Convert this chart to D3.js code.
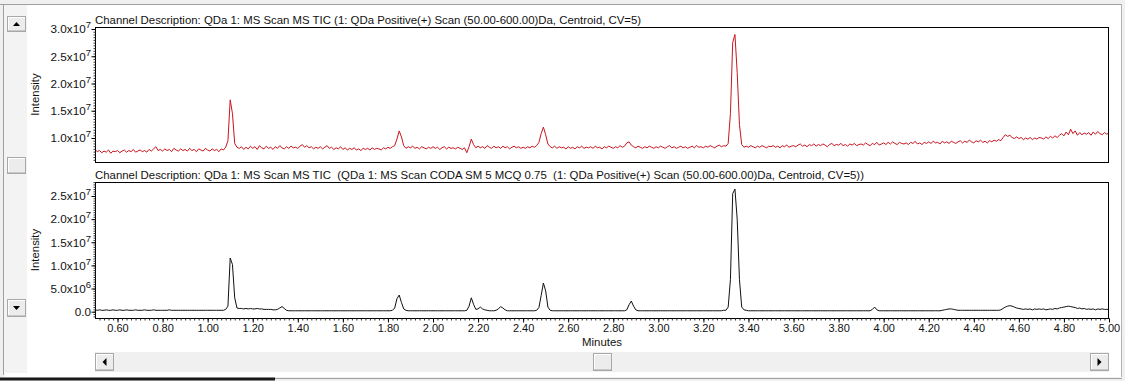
<!DOCTYPE html>
<html><head><meta charset="utf-8">
<script src="https://cdn.jsdelivr.net/npm/d3@7"></script>
<style>
body{margin:0;background:#fff}
svg{display:block}
text{font-family:"Liberation Sans",Arial,sans-serif;fill:#111;white-space:pre}
</style>
</head><body>
<svg id="chart" width="1125" height="381"></svg>
<script>
// ---------- DATA ----------
const scanTimes = [
0.50,0.51,0.52,0.53,0.54,0.55,0.56,0.57,0.58,0.59,
0.60,0.61,0.62,0.63,0.64,0.65,0.66,0.67,0.68,0.69,
0.70,0.71,0.72,0.73,0.74,0.75,0.76,0.77,0.78,0.79,
0.80,0.81,0.82,0.83,0.84,0.85,0.86,0.87,0.88,0.89,
0.90,0.91,0.92,0.93,0.94,0.95,0.96,0.97,0.98,0.99,
1.00,1.01,1.02,1.03,1.04,1.05,1.06,1.07,1.08,1.09,
1.10,1.11,1.12,1.13,1.14,1.15,1.16,1.17,1.18,1.19,
1.20,1.21,1.22,1.23,1.24,1.25,1.26,1.27,1.28,1.29,
1.30,1.31,1.32,1.33,1.34,1.35,1.36,1.37,1.38,1.39,
1.40,1.41,1.42,1.43,1.44,1.45,1.46,1.47,1.48,1.49,
1.50,1.51,1.52,1.53,1.54,1.55,1.56,1.57,1.58,1.59,
1.60,1.61,1.62,1.63,1.64,1.65,1.66,1.67,1.68,1.69,
1.70,1.71,1.72,1.73,1.74,1.75,1.76,1.77,1.78,1.79,
1.80,1.81,1.82,1.83,1.84,1.85,1.86,1.87,1.88,1.89,
1.90,1.91,1.92,1.93,1.94,1.95,1.96,1.97,1.98,1.99,
2.00,2.01,2.02,2.03,2.04,2.05,2.06,2.07,2.08,2.09,
2.10,2.11,2.12,2.13,2.14,2.15,2.16,2.17,2.18,2.19,
2.20,2.21,2.22,2.23,2.24,2.25,2.26,2.27,2.28,2.29,
2.30,2.31,2.32,2.33,2.34,2.35,2.36,2.37,2.38,2.39,
2.40,2.41,2.42,2.43,2.44,2.45,2.46,2.47,2.48,2.49,
2.50,2.51,2.52,2.53,2.54,2.55,2.56,2.57,2.58,2.59,
2.60,2.61,2.62,2.63,2.64,2.65,2.66,2.67,2.68,2.69,
2.70,2.71,2.72,2.73,2.74,2.75,2.76,2.77,2.78,2.79,
2.80,2.81,2.82,2.83,2.84,2.85,2.86,2.87,2.88,2.89,
2.90,2.91,2.92,2.93,2.94,2.95,2.96,2.97,2.98,2.99,
3.00,3.01,3.02,3.03,3.04,3.05,3.06,3.07,3.08,3.09,
3.10,3.11,3.12,3.13,3.14,3.15,3.16,3.17,3.18,3.19,
3.20,3.21,3.22,3.23,3.24,3.25,3.26,3.27,3.28,3.29,
3.30,3.31,3.32,3.33,3.34,3.35,3.36,3.37,3.38,3.39,
3.40,3.41,3.42,3.43,3.44,3.45,3.46,3.47,3.48,3.49,
3.50,3.51,3.52,3.53,3.54,3.55,3.56,3.57,3.58,3.59,
3.60,3.61,3.62,3.63,3.64,3.65,3.66,3.67,3.68,3.69,
3.70,3.71,3.72,3.73,3.74,3.75,3.76,3.77,3.78,3.79,
3.80,3.81,3.82,3.83,3.84,3.85,3.86,3.87,3.88,3.89,
3.90,3.91,3.92,3.93,3.94,3.95,3.96,3.97,3.98,3.99,
4.00,4.01,4.02,4.03,4.04,4.05,4.06,4.07,4.08,4.09,
4.10,4.11,4.12,4.13,4.14,4.15,4.16,4.17,4.18,4.19,
4.20,4.21,4.22,4.23,4.24,4.25,4.26,4.27,4.28,4.29,
4.30,4.31,4.32,4.33,4.34,4.35,4.36,4.37,4.38,4.39,
4.40,4.41,4.42,4.43,4.44,4.45,4.46,4.47,4.48,4.49,
4.50,4.51,4.52,4.53,4.54,4.55,4.56,4.57,4.58,4.59,
4.60,4.61,4.62,4.63,4.64,4.65,4.66,4.67,4.68,4.69,
4.70,4.71,4.72,4.73,4.74,4.75,4.76,4.77,4.78,4.79,
4.80,4.81,4.82,4.83,4.84,4.85,4.86,4.87,4.88,4.89,
4.90,4.91,4.92,4.93,4.94,4.95,4.96,4.97,4.98,4.99,
5.00];

// Intensity, units of 1e6 counts — top channel (raw TIC, red)
const ticRaw = [
7.9,7.5,7.7,7.3,7.6,7.4,7.8,7.2,7.6,7.5,
7.7,7.3,7.6,7.8,7.4,7.7,7.5,7.9,7.4,7.6,
7.8,7.5,7.7,7.4,7.9,7.6,8.0,8.4,7.7,7.9,
7.6,8.0,7.7,7.9,7.5,8.1,7.8,7.6,8.0,7.7,
7.9,7.6,8.1,7.7,7.9,7.5,8.0,7.8,7.6,8.1,
7.8,7.6,8.0,7.7,7.9,7.5,8.0,7.8,8.3,9.5,
17.0,14.5,9.0,8.3,8.1,8.4,7.9,8.3,8.0,8.5,
8.1,8.4,7.9,8.6,8.2,8.0,8.5,8.1,8.3,7.9,
8.4,8.1,8.6,8.2,8.0,8.4,8.1,8.5,8.2,8.3,
8.1,8.5,8.8,8.3,8.6,8.2,8.4,8.0,8.3,8.1,
8.4,8.0,8.3,8.6,8.1,8.3,7.9,8.2,8.0,8.4,
7.9,8.2,7.8,8.1,7.9,8.2,7.8,8.0,7.7,8.1,
7.9,8.1,7.8,8.2,7.9,8.1,8.0,7.8,8.2,8.0,
8.3,8.1,8.4,8.6,9.8,11.3,10.2,8.6,8.1,8.4,
8.2,8.5,8.1,8.3,8.0,8.4,8.2,8.0,8.3,8.1,
8.4,8.1,8.3,7.9,8.2,8.4,8.0,8.3,8.1,8.2,
8.0,8.3,8.1,7.9,8.2,7.3,8.4,9.8,8.8,8.2,
8.5,8.2,8.4,8.1,8.6,8.3,8.1,8.5,8.2,8.4,
8.1,8.5,8.2,8.4,8.0,8.3,8.5,8.2,8.4,8.1,
8.3,8.1,8.4,8.2,8.5,8.3,8.6,9.2,10.8,12.0,
10.6,8.9,8.4,8.2,8.5,8.1,8.4,8.2,8.3,8.0,
8.4,8.1,8.3,8.0,8.4,8.2,8.5,8.1,8.3,8.2,
8.4,8.1,8.5,8.2,8.3,8.0,8.4,8.2,8.5,8.3,
8.1,8.4,8.2,8.6,8.3,8.5,9.1,9.3,8.7,8.4,
8.2,8.5,8.3,8.1,8.4,8.2,8.5,8.3,8.1,8.4,
8.2,8.5,8.3,8.1,8.4,8.6,8.2,8.4,8.1,8.3,
8.5,8.2,8.4,8.1,8.3,8.5,8.2,8.6,8.3,8.4,
8.2,8.5,8.3,8.6,8.4,8.2,8.5,8.7,8.4,8.6,
8.5,9.0,14.5,27.5,29.0,22.0,12.5,8.8,8.3,8.5,
8.3,8.6,8.4,8.2,8.5,8.3,8.6,8.4,8.2,8.5,
8.4,8.6,8.3,8.5,8.2,8.6,8.4,8.7,8.3,8.5,
8.6,8.4,8.7,8.9,8.5,8.7,8.4,8.8,8.6,8.9,
8.5,8.8,8.6,8.9,8.7,8.4,8.8,9.0,8.6,8.8,
8.7,9.0,8.6,8.8,8.5,8.9,8.7,9.0,8.6,8.8,
8.9,8.7,9.1,8.8,8.6,9.0,8.8,9.2,8.7,8.9,
9.1,8.8,9.2,8.9,9.3,9.0,8.8,9.2,9.0,8.9,
9.1,8.8,9.2,9.0,9.4,8.9,9.1,8.8,9.2,9.0,
9.3,9.0,9.4,9.1,9.2,8.9,9.4,9.1,9.3,9.0,
9.4,9.2,9.0,9.3,9.5,9.1,9.4,9.2,9.6,9.3,
9.1,9.5,9.3,9.6,9.2,9.4,9.1,9.5,9.3,9.6,
9.4,9.7,9.5,10.1,10.6,10.3,10.5,10.1,9.9,10.2,
9.9,10.1,9.7,10.0,9.8,10.1,9.7,10.0,9.8,10.1,
10.0,9.8,10.2,9.9,10.3,10.0,10.4,10.1,10.5,10.8,
10.4,11.1,10.6,11.6,10.8,11.3,10.5,11.0,10.6,10.9,
10.7,11.0,10.5,11.1,10.7,11.2,10.8,10.6,11.0,10.7,
10.9];

// Intensity, units of 1e6 counts — bottom channel (CODA-filtered TIC, black)
const ticCoda = [
0.4,0.3,0.4,0.3,0.3,0.4,0.3,0.3,0.4,0.3,
0.3,0.4,0.3,0.3,0.4,0.3,0.3,0.3,0.4,0.3,
0.3,0.3,0.4,0.3,0.3,0.3,0.4,0.3,0.3,0.3,
0.3,0.3,0.3,0.4,0.3,0.3,0.3,0.3,0.3,0.3,
0.3,0.3,0.3,0.3,0.3,0.3,0.3,0.3,0.3,0.3,
0.3,0.3,0.3,0.3,0.3,0.3,0.3,0.3,0.5,1.2,
11.6,10.2,3.0,0.8,0.7,0.7,0.6,0.7,0.6,0.7,
0.6,0.6,0.7,0.6,0.6,0.5,0.5,0.5,0.5,0.4,
0.4,0.5,0.8,1.1,0.7,0.3,0.2,0.2,0.2,0.2,
0.2,0.2,0.2,0.2,0.2,0.2,0.2,0.2,0.2,0.2,
0.2,0.2,0.2,0.2,0.2,0.2,0.2,0.2,0.2,0.2,
0.2,0.2,0.2,0.2,0.2,0.2,0.2,0.2,0.2,0.2,
0.2,0.2,0.2,0.2,0.2,0.2,0.2,0.2,0.2,0.2,
0.2,0.2,0.3,0.8,2.8,3.6,2.0,0.6,0.3,0.2,
0.2,0.2,0.2,0.2,0.2,0.2,0.2,0.2,0.2,0.2,
0.2,0.2,0.2,0.2,0.2,0.2,0.2,0.2,0.2,0.2,
0.2,0.2,0.2,0.2,0.2,0.3,1.2,3.0,1.6,0.5,
0.6,1.0,0.6,0.4,0.3,0.2,0.2,0.2,0.3,0.6,
1.1,0.8,0.4,0.2,0.2,0.2,0.2,0.2,0.2,0.2,
0.2,0.2,0.2,0.2,0.2,0.2,0.3,0.9,3.5,6.2,
4.5,1.0,0.3,0.2,0.2,0.2,0.2,0.2,0.2,0.2,
0.2,0.2,0.2,0.2,0.2,0.2,0.2,0.2,0.2,0.2,
0.2,0.2,0.2,0.2,0.2,0.2,0.2,0.2,0.2,0.2,
0.2,0.2,0.2,0.2,0.2,0.2,0.4,1.5,2.3,1.2,
0.4,0.2,0.2,0.2,0.2,0.2,0.2,0.2,0.2,0.2,
0.2,0.2,0.2,0.2,0.2,0.2,0.2,0.2,0.2,0.2,
0.2,0.2,0.2,0.2,0.2,0.2,0.2,0.2,0.2,0.2,
0.2,0.2,0.2,0.2,0.2,0.2,0.2,0.2,0.2,0.3,
0.3,1.0,7.0,25.5,26.5,20.0,7.0,1.0,0.4,0.3,
0.2,0.2,0.2,0.2,0.2,0.2,0.2,0.2,0.2,0.2,
0.2,0.2,0.2,0.2,0.2,0.2,0.2,0.2,0.2,0.2,
0.2,0.2,0.2,0.2,0.2,0.2,0.2,0.2,0.2,0.2,
0.2,0.2,0.2,0.2,0.2,0.2,0.2,0.2,0.2,0.2,
0.2,0.2,0.2,0.2,0.2,0.2,0.2,0.2,0.2,0.2,
0.2,0.2,0.2,0.2,0.2,0.5,1.0,0.4,0.2,0.2,
0.2,0.2,0.2,0.2,0.2,0.2,0.2,0.2,0.2,0.2,
0.2,0.2,0.2,0.2,0.2,0.2,0.2,0.2,0.2,0.2,
0.2,0.2,0.2,0.2,0.2,0.2,0.3,0.4,0.5,0.6,
0.6,0.5,0.4,0.3,0.3,0.3,0.3,0.3,0.3,0.3,
0.3,0.3,0.3,0.3,0.3,0.3,0.3,0.3,0.3,0.3,
0.3,0.3,0.4,0.7,1.0,1.2,1.3,1.2,1.0,0.8,
0.7,0.6,0.5,0.6,0.5,0.6,0.4,0.6,0.5,0.6,
0.5,0.6,0.4,0.5,0.6,0.5,0.7,0.6,0.8,0.9,
1.0,1.1,1.2,1.1,1.0,0.9,0.7,0.8,0.6,0.7,
0.5,0.6,0.5,0.6,0.4,0.6,0.5,0.6,0.5,0.5,
0.5];

const xTickValues = [0.6,0.8,1.0,1.2,1.4,1.6,1.8,2.0,2.2,2.4,2.6,2.8,3.0,3.2,3.4,3.6,3.8,4.0,4.2,4.4,4.6,4.8,5.0];
const topYTicks = [10,15,20,25,30];            // 1e6 units
const topYMantissa = ["1.0","1.5","2.0","2.5","3.0"];
const topYExp = ["7","7","7","7","7"];
const bottomYTicks = [0,5,10,15,20,25];
const bottomYMantissa = ["0.0","5.0","1.0","1.5","2.0","2.5"];
const bottomYExp = ["","6","7","7","7","7"];
const titles = [
  "Channel Description: QDa 1: MS Scan MS TIC (1: QDa Positive(+) Scan (50.00-600.00)Da, Centroid, CV=5)",
  "Channel Description: QDa 1: MS Scan MS TIC  (QDa 1: MS Scan CODA SM 5 MCQ 0.75  (1: QDa Positive(+) Scan (50.00-600.00)Da, Centroid, CV=5))"
];
const xTitle = "Minutes";
const yTitle = "Intensity";

// ---------- DRAW ----------
const svg = d3.select("#chart");
const W = 1125, H = 381;

// window chrome
svg.append("rect").attr("width",W).attr("height",H).attr("fill","#f0f0f0");
svg.append("rect").attr("x",4).attr("y",5).attr("width",1117).attr("height",372).attr("fill","#ffffff");
svg.append("rect").attr("x",4).attr("y",5).attr("width",23).attr("height",368).attr("fill","#f3f3f3");
svg.append("line").attr("x1",0).attr("x2",1122).attr("y1",4.5).attr("y2",4.5).attr("stroke","#a0a0a0");
svg.append("line").attr("x1",3.5).attr("x2",3.5).attr("y1",4).attr("y2",375).attr("stroke","#a0a0a0");
svg.append("line").attr("x1",1121.5).attr("x2",1121.5).attr("y1",4).attr("y2",377).attr("stroke","#b4b4b4");
svg.append("rect").attr("x",0).attr("y",377).attr("width",W).attr("height",4).attr("fill","#f0f0f0");
svg.append("line").attr("x1",0).attr("x2",1122).attr("y1",378.5).attr("y2",378.5).attr("stroke","#a0a0a0");
svg.append("rect").attr("x",0).attr("y",377.5).attr("width",275).attr("height",3).attr("fill","#1a1a1a");
// horizontal scroll track
svg.append("rect").attr("x",95).attr("y",352).attr("width",1014).attr("height",20).attr("fill","#f0f0f0");

function button(x,y,w,h,dir){
  const g = svg.append("g");
  g.append("rect").attr("x",x+0.5).attr("y",y+0.5).attr("width",w).attr("height",h).attr("fill","#ececec").attr("stroke","#a8a8a8");
  g.append("line").attr("x1",x+1).attr("x2",x+w).attr("y1",y+1.5).attr("y2",y+1.5).attr("stroke","#ffffff");
  g.append("line").attr("x1",x+1.5).attr("x2",x+1.5).attr("y1",y+1).attr("y2",y+h).attr("stroke","#ffffff");
  g.append("line").attr("x1",x+1).attr("x2",x+w).attr("y1",y+h-0.5).attr("y2",y+h-0.5).attr("stroke","#c8c8c8");
  const cx = x + w/2 + 0.5, cy = y + h/2 + 0.5;
  let pts = null;
  if(dir==="up") pts=[[cx-3.5,cy+2],[cx+3.5,cy+2],[cx,cy-2]];
  if(dir==="down") pts=[[cx-3.5,cy-2],[cx+3.5,cy-2],[cx,cy+2]];
  if(dir==="left") pts=[[cx+2,cy-4],[cx+2,cy+4],[cx-2,cy]];
  if(dir==="right") pts=[[cx-2,cy-4],[cx-2,cy+4],[cx+2,cy]];
  if(pts) g.append("path").attr("d",d3.line()(pts)+"Z").attr("fill","#000");
}
button(7,16,18,15,"up");
button(7,157,18,16,null);
button(7,299,18,17,"down");
button(95,353,18,17,"left");
button(593,353,18,17,null);
button(1090,353,18,17,"right");

// scales
const x = d3.scaleLinear().domain([0.5,5.0]).range([95,1109]);
const panels = [
  {top:27, bottom:162, y:d3.scaleLinear().domain([10,30]).range([138,29]),
   values:ticRaw, color:"#c8141e", ticks:topYTicks, mant:topYMantissa, exp:topYExp, minorStep:0.5, title:titles[0]},
  {top:182, bottom:318, y:d3.scaleLinear().domain([0,25]).range([311.7,196]),
   values:ticCoda, color:"#111111", ticks:bottomYTicks, mant:bottomYMantissa, exp:bottomYExp, minorStep:0.5, title:titles[1]}
];

panels.forEach((p,i)=>{
  const h = p.bottom - p.top;
  const clipId = "clip"+i;
  svg.append("clipPath").attr("id",clipId).append("rect")
    .attr("x",95).attr("y",p.top).attr("width",1014).attr("height",h);

  // trace
  const line = d3.line().x((d,k)=>x(scanTimes[k])).y(d=>p.y(d));
  svg.append("path").datum(p.values)
    .attr("clip-path",`url(#${clipId})`)
    .attr("fill","none").attr("stroke",p.color).attr("stroke-width",1)
    .attr("stroke-linejoin","round")
    .attr("d",line);

  // frame
  svg.append("rect").attr("x",95.5).attr("y",p.top+0.5).attr("width",1013).attr("height",h)
    .attr("fill","none").attr("stroke","#000").attr("stroke-width",1);

  // y minor ticks
  const yd = p.y.invert(p.bottom), yu = p.y.invert(p.top);
  const minor = d3.range(Math.ceil(yd/p.minorStep)*p.minorStep, yu, p.minorStep);
  svg.append("g").attr("transform","translate(95.5,0)")
    .call(d3.axisLeft(p.y).tickValues(minor).tickSize(2).tickFormat(""))
    .call(g=>g.select(".domain").remove())
    .selectAll("line").attr("stroke","#333");
  // y major ticks
  svg.append("g").attr("transform","translate(95.5,0)")
    .call(d3.axisLeft(p.y).tickValues(p.ticks).tickSize(4).tickFormat(""))
    .call(g=>g.select(".domain").remove())
    .selectAll("line").attr("stroke","#000");
  // y labels with superscript
  const lab = svg.append("g").selectAll("text").data(p.ticks).join("text")
    .attr("x",91).attr("y",d=>p.y(d)+4.3)
    .attr("text-anchor","end").attr("font-size",11.7);
  lab.append("tspan").text((d,k)=>p.mant[k] + (p.exp[k] ? "x10" : ""));
  lab.append("tspan").attr("dy",-5).attr("font-size",9.5).text((d,k)=>p.exp[k]);

  // y title
  svg.append("text").attr("transform",`translate(39,${(p.top+p.bottom)/2}) rotate(-90)`)
    .attr("text-anchor","middle").attr("font-size",11.4).text(yTitle);

  // panel title
  svg.append("text").attr("x",95).attr("y",p.top-3.5).attr("font-size",11.4)
    .attr("xml:space","preserve").text(p.title);
});

// x axis (bottom panel)
const xMinor = d3.range(0.52, 5.0, 0.02);
svg.append("g").attr("transform","translate(0,318.5)")
  .call(d3.axisBottom(x).tickValues(xMinor).tickSize(2).tickFormat(""))
  .call(g=>g.select(".domain").remove())
  .selectAll("line").attr("stroke","#333");
const xa = svg.append("g").attr("transform","translate(0,318.5)")
  .call(d3.axisBottom(x).tickValues(xTickValues).tickSize(4).tickFormat(d3.format(".2f")))
  .call(g=>g.select(".domain").remove());
xa.selectAll("line").attr("stroke","#000");
xa.selectAll("text").attr("font-size",11).attr("font-family","Liberation Sans, Arial, sans-serif")
  .attr("fill","#111").attr("dy",0).attr("y",13.5);

svg.append("text").attr("x",602).attr("y",346).attr("text-anchor","middle").attr("font-size",11.4).text(xTitle);
</script>
</body></html>
